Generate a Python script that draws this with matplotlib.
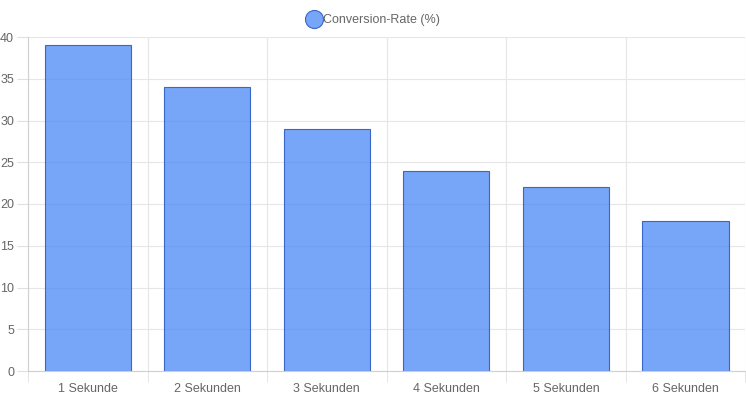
import matplotlib
matplotlib.use("Agg")
import matplotlib.pyplot as plt
from matplotlib.lines import Line2D

# Chart data
categories = ["1 Sekunde", "2 Sekunden", "3 Sekunden", "4 Sekunden", "5 Sekunden", "6 Sekunden"]
values = [39, 34, 29, 24, 22, 18]
series_name = "Conversion-Rate (%)"

plt.rcParams['font.family'] = ['Liberation Sans', 'DejaVu Sans']

fig = plt.figure(figsize=(7.46, 4.0), dpi=100)
ax = fig.add_axes([0.0375, 0.0725, 0.9615, 0.835])

fill = (0.29, 0.53, 0.96, 0.75)
edge = "#3a66c8"
x = list(range(len(categories)))
ax.bar(x, values, width=0.72, color=fill, edgecolor=edge, linewidth=0.8, zorder=2)

ax.set_xlim(-0.5, len(categories) - 0.5)
ax.set_ylim(0, 40)
ax.set_yticks(range(0, 41, 5))
ax.set_xticks(x)
ax.set_xticklabels(categories)
ax.set_xticks([i - 0.5 for i in range(len(categories) + 1)], minor=True)

ax.tick_params(axis='x', which='major', length=0, pad=9, labelsize=9, colors="#666666")
ax.tick_params(axis='x', which='minor', length=8, color="#e0e0e0")
ax.tick_params(axis='y', length=8, color="#e0e0e0", labelsize=9, labelcolor="#666666", pad=2)
ax.grid(axis='x', which='minor', color="#e6e6e6", linewidth=0.8, zorder=0)
ax.grid(axis='y', which='major', color="#e6e6e6", linewidth=0.8, zorder=0)
ax.set_axisbelow(True)
for s in ax.spines.values():
    s.set_visible(False)
ax.spines['left'].set_visible(True)
ax.spines['left'].set_color("#d0d0d0")
ax.spines['bottom'].set_visible(True)
ax.spines['bottom'].set_color("#d0d0d0")

handle = Line2D([], [], marker='o', linestyle='', markersize=13,
                markerfacecolor=fill, markeredgecolor=edge, markeredgewidth=0.8)
fig.legend([handle], [series_name], loc='center', bbox_to_anchor=(0.5, 0.95),
           frameon=False, fontsize=9, labelcolor="#666666", handletextpad=0.1,
           handlelength=1.2)

fig.savefig("out.png", dpi=100)
